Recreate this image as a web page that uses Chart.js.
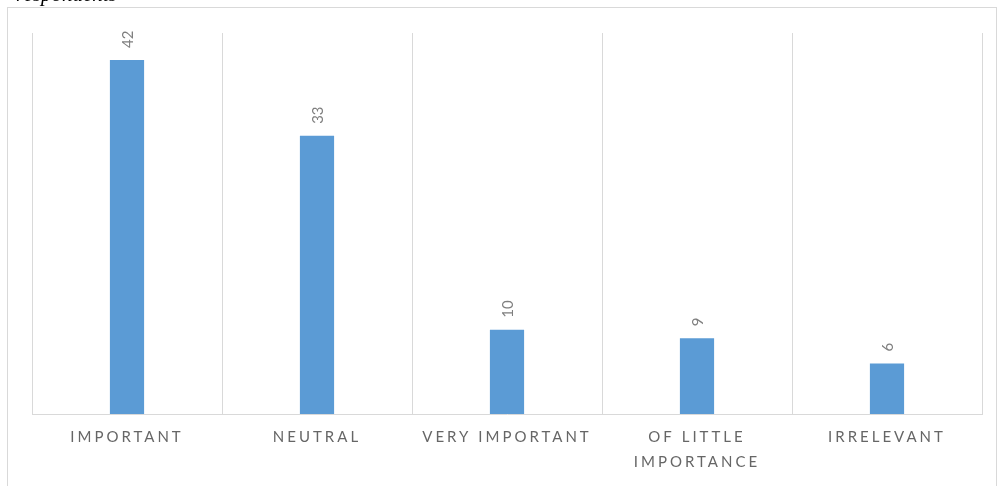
<!DOCTYPE html>
<html>
<head>
<meta charset="utf-8">
<script src="https://cdn.jsdelivr.net/npm/chart.js@4/dist/chart.umd.min.js"></script>
<style>
  html, body { margin: 0; padding: 0; background: #ffffff; }
  #wrap { position: relative; width: 1000px; height: 486px; overflow: hidden; }
  #caption {
    position: absolute; left: 16px; top: -16px; margin: 0;
    font: italic 21px "Liberation Serif", "DejaVu Serif", serif; color: #000;
    white-space: nowrap; line-height: 21px;
  }
  canvas { position: absolute; left: 0; top: 0; }
</style>
</head>
<body>
<div id="wrap">
  <canvas id="chart" width="1000" height="486"></canvas>
  <p id="caption">respondents</p>
</div>
<script>
// Survey answers: how important respondents rated the item
const categories = [
  ["IMPORTANT"],
  ["NEUTRAL"],
  ["VERY IMPORTANT"],
  ["OF LITTLE", "IMPORTANCE"],
  ["IRRELEVANT"]
];
const responses = [42, 33, 10, 9, 6];
const yMax = 45.2;

const barColor = "#5B9BD5";
const gridColor = "#d9d9d9";

// Outer frame around the chart, plus letter spacing for the category labels
const framePlugin = {
  id: "frame",
  beforeDraw(chart) {
    const ctx = chart.ctx;
    ctx.save();
    ctx.strokeStyle = gridColor;
    ctx.lineWidth = 1;
    ctx.strokeRect(7.5, 7.5, 989, 520);
    ctx.restore();
    ctx.letterSpacing = "3px";
  },
  beforeDatasetsDraw(chart) {
    chart.ctx.letterSpacing = "0px";
  }
};

// Vertical value labels above each bar
const valueLabels = {
  id: "valueLabels",
  afterDatasetsDraw(chart) {
    const ctx = chart.ctx;
    const meta = chart.getDatasetMeta(0);
    const data = chart.data.datasets[0].data;
    ctx.save();
    ctx.letterSpacing = "0px";
    ctx.fillStyle = "#7f7f7f";
    ctx.font = "15px Lato, 'Open Sans', sans-serif";
    ctx.textAlign = "left";
    ctx.textBaseline = "middle";
    meta.data.forEach((bar, i) => {
      ctx.save();
      ctx.translate(bar.x + 1, bar.y - 12);
      ctx.rotate(-Math.PI / 2);
      ctx.fillText(String(data[i]), 0, 0);
      ctx.restore();
    });
    ctx.restore();
  }
};

new Chart(document.getElementById("chart"), {
  type: "bar",
  data: {
    labels: categories,
    datasets: [{
      data: responses,
      backgroundColor: barColor,
      borderWidth: 0,
      barPercentage: 0.18,
      categoryPercentage: 1.0
    }]
  },
  options: {
    responsive: false,
    animation: false,
    devicePixelRatio: 1,
    layout: { padding: { left: 32, right: 18, top: 33, bottom: 0 } },
    plugins: {
      legend: { display: false },
      tooltip: { enabled: false }
    },
    scales: {
      x: {
        offset: true,
        grid: {
          display: true,
          offset: true,
          color: gridColor,
          lineWidth: 1,
          drawTicks: false
        },
        border: { display: true, color: gridColor, width: 1 },
        ticks: {
          color: "#666666",
          font: { family: "Lato, 'Open Sans', sans-serif", size: 15, lineHeight: 25 / 15 },
          padding: 11,
          maxRotation: 0,
          minRotation: 0,
          autoSkip: false
        },
        afterFit(scale) { scale.height = 72; }
      },
      y: {
        display: false,
        min: 0,
        max: yMax
      }
    }
  },
  plugins: [framePlugin, valueLabels]
});
</script>
</body>
</html>
